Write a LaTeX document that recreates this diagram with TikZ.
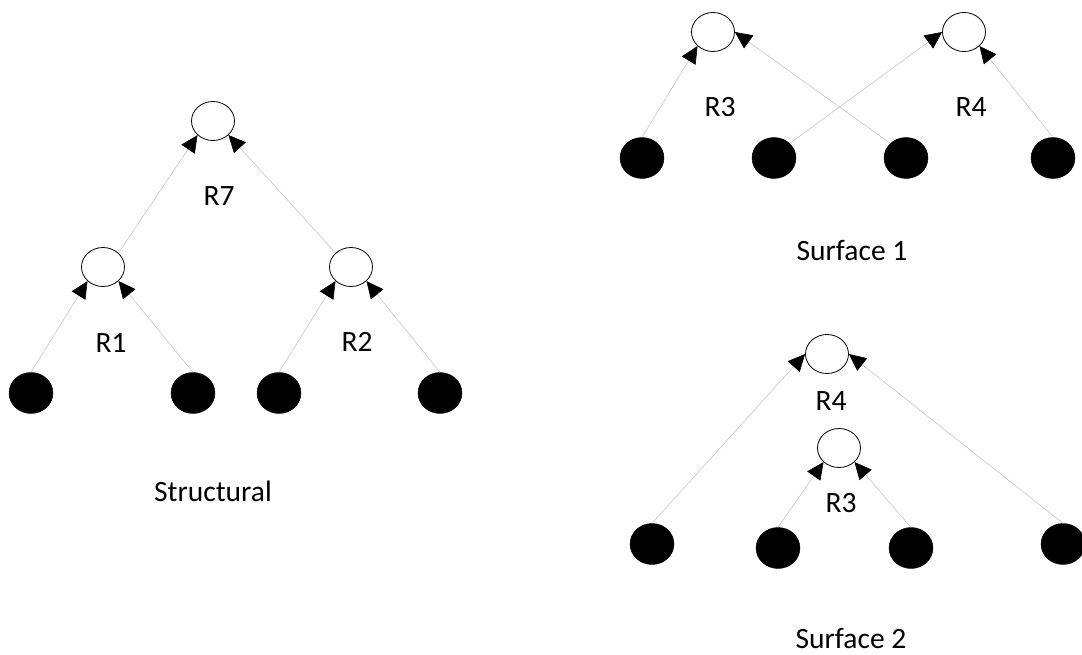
\documentclass[tikz,border=0pt]{standalone}
\usepackage{fontspec}
\setmainfont{Carlito}
\usetikzlibrary{shapes.geometric,arrows.meta}
\begin{document}
\begin{tikzpicture}[x=1pt,y=-1pt,
  opennode/.style={ellipse,draw=black,line width=0.8pt,fill=white,minimum width=43pt,minimum height=39pt,inner sep=0pt},
  leafnode/.style={ellipse,draw=black,fill=black,minimum width=44pt,minimum height=41pt,inner sep=0pt},
  lbl/.style={font=\fontsize{29.5}{34}\selectfont,inner sep=0pt},
  conn/.style={draw=gray!45,line width=0.6pt,-{Triangle[length=17pt,width=16pt,color=black,fill=black]}}
]
\useasboundingbox (0,0) rectangle (1082,654);
% Structural
\node[opennode] (r7) at (213,121) {};
\node[opennode] (r1) at (103,267) {};
\node[opennode] (r2) at (351,267) {};
\node[leafnode] (sb1) at (31,393) {};
\node[leafnode] (sb2) at (193,393) {};
\node[leafnode] (sb3) at (279,393) {};
\node[leafnode] (sb4) at (440,393) {};
\node[lbl] (lr7) at (219,196) {R7};
\node[lbl] (lr1) at (111,343) {R1};
\node[lbl] (lr2) at (357,342) {R2};
\node[lbl] (lstruct) at (213,491) {Structural};
\draw[conn] (sb1.north) -- (r1.south west);
\draw[conn] (sb2.north) -- (r1.south east);
\draw[conn] (sb3.north) -- (r2.south west);
\draw[conn] (sb4.north) -- (r2.south east);
\draw[conn] (r1.north east) -- (r7.south west);
\draw[conn] (r2.north west) -- (r7.south east);
% Surface 1
\node[opennode] (ar3) at (713,32) {};
\node[opennode] (ar4) at (964,32) {};
\node[leafnode] (ab1) at (642,158) {};
\node[leafnode] (ab2) at (774,158) {};
\node[leafnode] (ab3) at (906,158) {};
\node[leafnode] (ab4) at (1053,158) {};
\node[lbl] (lar3) at (720,107) {R3};
\node[lbl] (lar4) at (971,107) {R4};
\node[lbl] (lsurf1) at (852,250) {Surface 1};
\draw[conn] (ab1.north) -- (ar3.south west);
\draw[conn] (ab3.north west) -- (ar3.east);
\draw[conn] (ab2.north east) -- (ar4.west);
\draw[conn] (ab4.north) -- (ar4.south east);
% Surface 2
\node[opennode] (br4) at (827,354) {};
\node[opennode] (br3) at (839,448) {};
\node[leafnode] (bb1) at (652,544) {};
\node[leafnode] (bb2) at (778,548) {};
\node[leafnode] (bb3) at (911,548) {};
\node[leafnode] (bb4) at (1063,544) {};
\node[lbl] (lbr4) at (831,401) {R4};
\node[lbl] (lbr3) at (841,503) {R3};
\node[lbl] (lsurf2) at (851,638) {Surface 2};
\draw[conn] (bb1.north) -- (br4.west);
\draw[conn] (bb4.north) -- (br4.east);
\draw[conn] (bb2.north) -- (br3.south west);
\draw[conn] (bb3.north) -- (br3.south east);
\end{tikzpicture}
\end{document}
